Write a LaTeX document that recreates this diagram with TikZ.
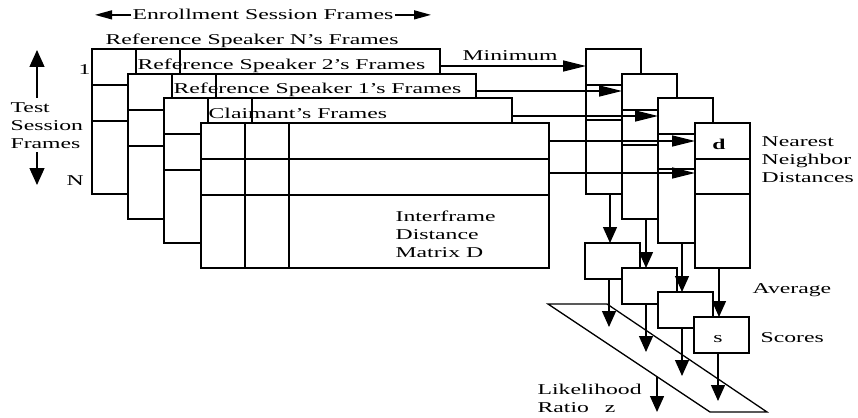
\documentclass[tikz,border=0pt]{standalone}
\usepackage{fontspec}
\setmainfont[FakeStretch=1.58]{Liberation Serif}
\usetikzlibrary{arrows.meta,calc}
\newcommand\mxpanel[3]{%
  \node[panelbox] (#1) at (#2,#3) {};
  \draw ([xshift=44pt]#1.north west) -- ([xshift=44pt]#1.south west);
  \draw ([xshift=88pt]#1.north west) -- ([xshift=88pt]#1.south west);
  \draw ([yshift=-36pt]#1.north west) -- ([yshift=-36pt]#1.north east);
  \draw ([yshift=-72pt]#1.north west) -- ([yshift=-72pt]#1.north east);
}
\newcommand\nnstack[3]{%
  \node[nnbox] (#1) at (#2,#3) {};
  \draw ([yshift=-36pt]#1.north west) -- ([yshift=-36pt]#1.north east);
  \draw ([yshift=-71pt]#1.north west) -- ([yshift=-71pt]#1.north east);
}
\tikzset{
  lbl/.style={inner sep=0pt, font=\fontsize{15}{18}\selectfont},
  mlbl/.style={lbl, align=left, anchor=north west},
  panelbox/.style={draw, fill=white, inner sep=0pt, outer sep=0pt, minimum width=348pt, minimum height=145pt, anchor=north west},
  nnbox/.style={draw, fill=white, inner sep=0pt, outer sep=0pt, minimum width=55pt, minimum height=145pt, anchor=north west},
  avgbox/.style={draw, fill=white, inner sep=0pt, outer sep=0pt, minimum width=55pt, minimum height=36pt, anchor=north west},
  harr/.style={-{Triangle[length=23pt,width=11pt]}},
  varr/.style={-{Triangle[length=16pt,width=14pt]}},
  sarr/.style={-{Triangle[length=17pt,width=9pt]}},
  tarr/.style={-{Triangle[length=17pt,width=15pt]}},
}
\begin{document}
\begin{tikzpicture}[x=1pt,y=-1pt,line width=1.3pt]
\useasboundingbox (0,0) rectangle (858,417);
% top label
\node[lbl, anchor=base west] (en) at (132,20) {Enrollment Session Frames};
\coordinate (enl) at (95,15);
\coordinate (enr) at (431,15);
\draw[sarr] ([xshift=-1pt]en.west) -- (en.west -| enl);
\draw[sarr] ([xshift=1pt]en.east) -- (en.east -| enr);
% test session frames
\node[mlbl] (ts) at (10,102) {Test\\Session\\Frames};
\coordinate (tsu) at (37,50);
\coordinate (tsd) at (37,185);
\draw[tarr] ([yshift=4pt]ts.north -| tsu) -- (tsu);
\draw[tarr] ([yshift=-3pt]ts.south -| tsd) -- (tsd);
\node[lbl, anchor=base west] (r1) at (78,75) {1};
\node[lbl, anchor=base west] (rN) at (66,185) {N};
% panels
\node[lbl, anchor=base west] (tN) at (105,45) {Reference Speaker N's Frames};
\mxpanel{pN}{92}{49}
\node[lbl, anchor=base west] (t2) at (137,70) {Reference Speaker 2's Frames};
\mxpanel{p2}{128}{74}
\node[lbl, anchor=base west] (t1) at (173,94) {Reference Speaker 1's Frames};
\mxpanel{p1}{164}{98}
\node[lbl, anchor=base west] (tC) at (208,118.5) {Claimant's Frames};
\mxpanel{pC}{201}{123}
\node[mlbl] (im) at (395,210) {Interframe\\Distance\\Matrix D};
% nearest neighbour boxes
\nnstack{nnN}{586}{49}
\nnstack{nn2}{622}{74}
\nnstack{nn1}{658}{98}
\nnstack{nnC}{695}{123}
\node[lbl, anchor=base] (dd) at (719,149) {\textbf{d}};
\node[mlbl] (nnl) at (761,136) {Nearest\\Neighbor\\Distances};
\node[lbl, anchor=base west] (mn) at (462,61) {Minimum};
% horizontal arrows
\coordinate (hN) at ([yshift=-17pt]pN.north east);
\coordinate (h2) at ([yshift=-17pt]p2.north east);
\coordinate (h1) at ([yshift=-18pt]p1.north east);
\coordinate (hC) at ([yshift=-18pt]pC.north east);
\coordinate (hD) at ([yshift=-50pt]pC.north east);
\draw[harr] (hN) -- (hN -| nnN.west);
\draw[harr] (h2) -- (h2 -| nn2.west);
\draw[harr] (h1) -- (h1 -| nn1.west);
\draw[harr] (hC) -- (hC -| nnC.west);
\draw[harr] (hD) -- (hD -| nnC.west);
% average boxes
\node[avgbox] (avN) at (585,243) {};
\node[avgbox] (av2) at (622,268) {};
\node[avgbox] (av1) at (658,292) {};
\node[avgbox] (avC) at (694,317) {};
\node[lbl, anchor=base] (ss) at (718,342) {s};
\node[lbl, anchor=base west] (avl) at (752,293) {Average};
\node[lbl, anchor=base west] (scl) at (760,342) {Scores};
\foreach \b/\a in {nnN/avN, nn2/av2, nn1/av1, nnC/avC}{
  \coordinate (v\b) at ([xshift=24pt]\b.south west);
  \draw[varr] (v\b) -- (v\b |- \a.north);
}
% likelihood parallelogram
\coordinate (qa) at (548,304);
\coordinate (qb) at (607,304);
\coordinate (qc) at (767,412);
\coordinate (qd) at (710,412);
\draw (qa) -- (qb) -- (qc) -- (qd) -- cycle;
\foreach \a in {avN, av2, av1, avC}{
  \coordinate (w\a) at ([xshift=24pt]\a.south west);
  \draw[varr] (w\a) -- ([yshift=-48pt]w\a);
}
\coordinate (lz) at ($(qa)!0.673!(qd)$);
\draw[varr] (lz) -- (lz |- qd);
\node[mlbl] (lr) at (537,383) {Likelihood\\Ratio\hspace{10pt} z};
\end{tikzpicture}
\end{document}
